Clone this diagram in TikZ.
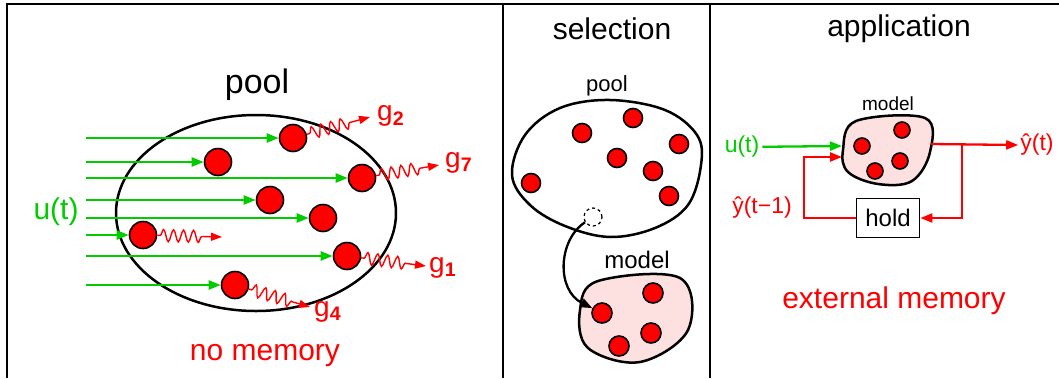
\documentclass[tikz,border=0pt]{standalone}
\usepackage{fontspec}
\setmainfont{Liberation Sans}
\usetikzlibrary{arrows.meta,decorations.pathmorphing}
\definecolor{ingreen}{RGB}{0,204,0}
\definecolor{outred}{RGB}{255,0,0}
\definecolor{blobpink}{RGB}{253,224,224}
\newcommand\fsz[1]{\fontsize{#1}{#1}\selectfont}

\begin{document}
\begin{tikzpicture}[x=1pt, y=-1pt,
  ball/.style={circle, draw=black, fill=outred, line width=1.6pt, inner sep=0pt, minimum size=#1},
  ball/.default=27pt,
  inarrow/.style={ingreen, line width=2.3pt, -{Triangle[length=12pt,width=9pt]}},
  outarrow/.style={outred, line width=2.3pt, -{Triangle[length=12pt,width=9pt]}},
  wave/.style={outred, line width=1.4pt, -{Triangle[length=11pt,width=8pt]}, decorate,
    decoration={snake, amplitude=6pt, segment length=10pt, pre length=3pt, post length=17pt}},
  blob/.style={draw=black, line width=2.5pt},
  glabel/.style={outred, inner sep=0pt, anchor=base west, font=\fsz{28}}]
  \useasboundingbox (0,0) rectangle (1059,378);
  \draw[line width=2pt] (7,378) -- (7,4) -- (1059,4);
  \draw[line width=2pt] (503,4) -- (503,378);
  \draw[line width=2pt] (710,4) -- (710,378);

  % no memory
  \node[inner sep=0pt, font=\fsz{34}] (pooltitle) at (257,85) {pool};
  \draw[blob] (256,213) ellipse [x radius=140, y radius=98];
  \node[ball] (b1) at (293,138) {};
  \node[ball] (b2) at (218,162) {};
  \node[ball] (b3) at (362,178) {};
  \node[ball] (b4) at (270,200) {};
  \node[ball] (b5) at (323,218) {};
  \node[ball] (b6) at (143,235) {};
  \node[ball] (b7) at (347,256) {};
  \node[ball] (b8) at (235,285) {};
  \foreach \i/\y in {1/138,2/162,3/178,4/200,5/218,6/235,7/256,8/285}
    \coordinate (in\i) at (86,\y);
  \foreach \i in {1,...,8}
    \draw[inarrow] (in\i) -- (b\i);
  \node[ingreen, inner sep=0pt, font=\fsz{30}] (ut) at (56,212) {u(t)};
  \coordinate (e2) at (370,117);
  \coordinate (e7) at (439,165);
  \coordinate (e6) at (222,237);
  \coordinate (e1) at (426,266);
  \coordinate (e4) at (310,307);
  \draw[wave] (b1) -- (e2);
  \draw[wave] (b3) -- (e7);
  \draw[wave] (b6) -- (e6);
  \draw[wave] (b7) -- (e1);
  \draw[wave] (b8) -- (e4);
  \node[glabel] (g2) at (377,120) {g\textsubscript{\bfseries 2}};
  \node[glabel] (g7) at (445,167) {g\textsubscript{\bfseries 7}};
  \node[glabel] (g1) at (429,272) {g\textsubscript{\bfseries 1}};
  \node[glabel] (g4) at (314,316) {g\textsubscript{\bfseries 4}};
  \node[outred, inner sep=0pt, font=\fsz{30}] (nomem) at (265,356) {no memory};

  % selection
  \node[inner sep=0pt, font=\fsz{30}] (seltitle) at (612,29) {selection};
  \node[inner sep=0pt, font=\fsz{22}] (poolsmall) at (607,86) {pool};
  \draw[blob] plot[smooth cycle, tension=0.6] coordinates {(512,175) (525,135) (560,108) (610,100)
    (665,110) (697,135) (701,165) (688,205) (655,228) (610,237) (565,226) (530,205)};
  \node[ball=19pt] (p1) at (582,133) {};
  \node[ball=19pt] (p2) at (633,118) {};
  \node[ball=19pt] (p3) at (679,144) {};
  \node[ball=19pt] (p4) at (617,158) {};
  \node[ball=19pt] (p5) at (653,171) {};
  \node[ball=19pt] (p6) at (531,183) {};
  \node[ball=19pt] (p7) at (669,196) {};
  \node[circle, draw, dashed, line width=1.2pt, minimum size=18pt, inner sep=0pt] (pick) at (593,217) {};
  \node[inner sep=0pt, font=\fsz{24}] (modelsmall) at (637,260) {model};
  \draw[blob, fill=blobpink] plot[smooth cycle, tension=0.6] coordinates {(580,310) (598,281) (680,278)
    (688,330) (640,362) (588,348)};
  \node[ball=20pt] (mb1) at (602,313) {};
  \node[ball=20pt] (mb2) at (653,293) {};
  \node[ball=20pt] (mb3) at (651,333) {};
  \node[ball=20pt] (mb4) at (619,346) {};
  \draw[line width=2.3pt, -{Triangle[length=12pt,width=9pt]}] (pick) .. controls (558,240) and (556,290) .. (mb1);

  % application
  \node[inner sep=0pt, font=\fsz{30}] (apptitle) at (899,29) {application};
  \node[inner sep=0pt, font=\fsz{19}] (modelapp) at (888,104) {model};
  \draw[blob, fill=blobpink] plot[smooth cycle, tension=0.6] coordinates {(843,150) (856,121) (925,118)
    (930,152) (912,181) (878,184) (848,172)};
  \node[ball=16pt] (rb1) at (862,146) {};
  \node[ball=16pt] (rb2) at (902,130) {};
  \node[ball=16pt] (rb3) at (900,161) {};
  \node[ball=16pt] (rb4) at (875,171) {};
  \node[ingreen, inner sep=3pt, font=\fsz{23}] (ut2) at (742,147) {u(t)};
  \node[outred, inner sep=2pt, font=\fsz{23}] (yt) at (1037,145) {ŷ(t)};
  \node[outred, inner sep=0pt, font=\fsz{23}] (ytm) at (762,208) {ŷ(t−1)};
  \node[draw, line width=1.8pt, minimum width=63pt, minimum height=39pt, font=\fsz{24}] (hold) at (888,218) {hold};
  \coordinate (min1) at (842,146);
  \coordinate (min2) at (842,157);
  \coordinate (mout) at (931,144);
  \coordinate (br) at (962,144);
  \coordinate (fb) at (804,157);
  \draw[inarrow] (ut2) -- (min1);
  \draw[outarrow] (mout) -- (yt.west);
  \draw[outarrow] (br) |- (hold.east);
  \draw[outarrow] (hold.west) -| (fb) -- (min2);
  \node[outred, inner sep=0pt, font=\fsz{30}] (extmem) at (894,301) {external memory};
\end{tikzpicture}
\end{document}
